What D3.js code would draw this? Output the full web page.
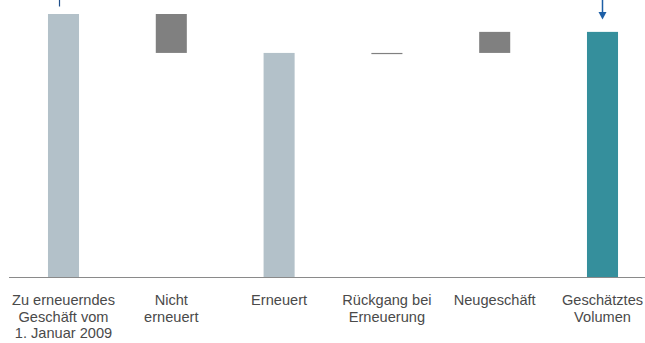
<!DOCTYPE html>
<html>
<head>
<meta charset="utf-8">
<script src="https://cdn.jsdelivr.net/npm/d3@7"></script>
<style>
  body { margin: 0; background: #fff; }
  svg text { font-family: "Liberation Sans", Arial, sans-serif; }
</style>
</head>
<body>
<div id="chart"></div>
<script>
// waterfall data (index: start volume = 100)
const categories = ["start", "nicht", "erneuert", "rueckgang", "neu", "volumen"];
const labels = [
    ["Zu erneuerndes", "Geschäft vom", "1. Januar 2009"],
    ["Nicht", "erneuert"],
    ["Erneuert"],
    ["Rückgang bei", "Erneuerung"],
    ["Neugeschäft"],
    ["Geschätztes", "Volumen"]
];
// [low, high] of each bar
const lows = [0, 85.2, 0, 85.0, 85.2, 0];
const highs = [100, 100, 85.2, 85.2, 93.2, 93.2];
const kinds = ["total", "delta", "total", "delta", "delta", "final"];

const width = 645, height = 343;
const margin = {top: 14, bottom: 66, left: 9.6, right: -11.4};

const colors = d3.scaleOrdinal()
    .domain(["total", "delta", "final"])
    .range(["#b3c1c9", "#808080", "#358f9c"]);

const svg = d3.select("#chart")
    .append("svg")
    .attr("width", width)
    .attr("height", height);

const x = d3.scaleBand()
    .domain(categories)
    .range([margin.left, width - margin.right])
    .paddingInner(0.712)
    .paddingOuter(0.356);

const y = d3.scaleLinear()
    .domain([0, 100])
    .range([height - margin.bottom, margin.top]);

// bars
svg.selectAll("rect.bar")
    .data(categories)
    .join("rect")
    .attr("class", "bar")
    .attr("x", d => x(d))
    .attr("width", x.bandwidth())
    .attr("y", (d, i) => y(highs[i]))
    .attr("height", (d, i) => Math.max(1.2, y(lows[i]) - y(highs[i])))
    .attr("fill", (d, i) => colors(kinds[i]));

// baseline
svg.append("line")
    .attr("x1", 9)
    .attr("x2", width)
    .attr("y1", y(0) + 0.5)
    .attr("y2", y(0) + 0.5)
    .attr("stroke", "#8a8a8a")
    .attr("stroke-width", 1);

// category labels
const lab = svg.selectAll("text.cat")
    .data(categories)
    .join("text")
    .attr("class", "cat")
    .attr("text-anchor", "middle")
    .attr("y", y(0) + 28)
    .style("font-size", "14.6px")
    .style("fill", "#4a4a4a");
lab.selectAll("tspan")
    .data((d, i) => labels[i].map(t => ({t, c: d})))
    .join("tspan")
    .attr("x", d => x(d.c) + x.bandwidth() / 2)
    .attr("dy", (d, i) => i === 0 ? 0 : 16.5)
    .text(d => d.t);

// marker lines at the top
svg.append("line")
    .attr("x1", 59.5).attr("x2", 59.5)
    .attr("y1", 0).attr("y2", 6.5)
    .attr("stroke", "#1f4f8a")
    .attr("stroke-width", 1.2);

const ax = x("volumen") + x.bandwidth() / 2;
svg.append("line")
    .attr("x1", ax).attr("x2", ax)
    .attr("y1", 0).attr("y2", 13)
    .attr("stroke", "#1d5fa6")
    .attr("stroke-width", 1.5);
svg.append("path")
    .attr("d", `M${ax - 4},12 L${ax + 4},12 L${ax},19.5 Z`)
    .attr("fill", "#1d5fa6");
</script>
</body>
</html>
